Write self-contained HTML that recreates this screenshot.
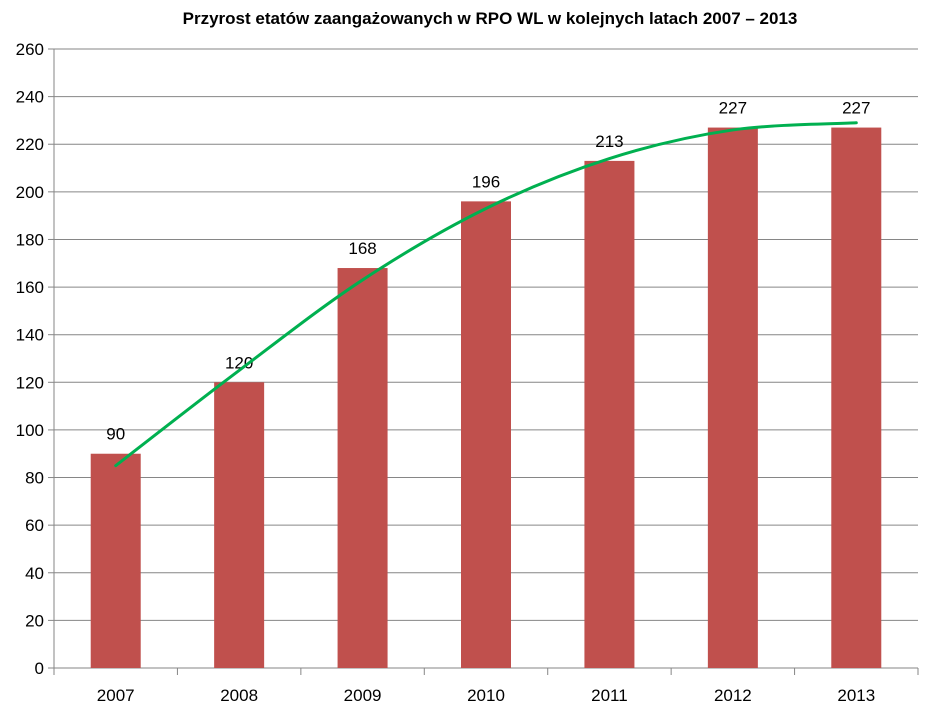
<!DOCTYPE html>
<html><head><meta charset="utf-8"><style>
body{margin:0;background:#fff;}
svg{display:block;font-family:"Liberation Sans",sans-serif;}
</style></head><body>
<svg id="chart" width="945" height="722">
<text x="490" y="24" text-anchor="middle" font-weight="bold" font-size="17" fill="#000">Przyrost etatów zaangażowanych  w RPO WL w kolejnych latach 2007 – 2013</text>
</svg>
<script>
const years=["2007","2008","2009","2010","2011","2012","2013"];
const values=[90,120,168,196,213,227,227];
const trend=[85,125,163,193,214,226,229];
const yTicks=[0,20,40,60,80,100,120,140,160,180,200,220,240,260];
const L=54,R=918,T=49,B=668,maxV=260;
const cw=(R-L)/years.length;
const xC=i=>L+cw*(i+0.5);
const yS=v=>B-(v/maxV)*(B-T);
const svg=document.getElementById('chart');
const NS="http://www.w3.org/2000/svg";
function mk(t,a,txt){const e=document.createElementNS(NS,t);for(const k in a)e.setAttribute(k,a[k]);if(txt!==undefined)e.textContent=txt;svg.appendChild(e);return e;}
yTicks.forEach(v=>{
  const g=mk('line',{x1:L,x2:R,y1:yS(v),y2:yS(v),stroke:v===0?'#868686':'#868686','stroke-width':1});
  
  
  const tk=mk('line',{x1:L-6,x2:L,y1:yS(v),y2:yS(v),stroke:'#868686'});
  
  
  const t=mk('text',{x:L-10,y:yS(v)+6,'text-anchor':'end','font-size':17,fill:'#000'},v);
  
  
});
const ax=mk('line',{x1:L,x2:L,y1:T,y2:B,stroke:'#868686'});


for(let i=0;i<=years.length;i++){
  const tk=mk('line',{x1:L+cw*i,x2:L+cw*i,y1:B,y2:B+7,stroke:'#868686'});
  
  
}
years.forEach((y,i)=>{
  const bw=50;
  const r=mk('rect',{x:xC(i)-bw/2,y:yS(values[i]),width:bw,height:B-yS(values[i]),fill:'#c0504d'});
  
  
  const lb=mk('text',{x:xC(i),y:yS(values[i])-14,'text-anchor':'middle','font-size':17,fill:'#000'},values[i]);
  
  
  const xl=mk('text',{x:xC(i),y:701,'text-anchor':'middle','font-size':17,fill:'#000'},y);
  
  
});
const pts=trend.map((v,i)=>[xC(i),yS(v)]);
let d=`M${pts[0][0]},${pts[0][1]}`;
for(let i=0;i<pts.length-1;i++){
  const p0=pts[Math.max(0,i-1)],p1=pts[i],p2=pts[i+1],p3=pts[Math.min(pts.length-1,i+2)];
  const c1=[p1[0]+(p2[0]-p0[0])/6,p1[1]+(p2[1]-p0[1])/6];
  const c2=[p2[0]-(p3[0]-p1[0])/6,p2[1]-(p3[1]-p1[1])/6];
  d+=` C${c1[0]},${c1[1]} ${c2[0]},${c2[1]} ${p2[0]},${p2[1]}`;
}
const tl=mk('path',{d:d,fill:'none',stroke:'#00b050','stroke-width':3,'stroke-linecap':'round'});


</script>
</body></html>
